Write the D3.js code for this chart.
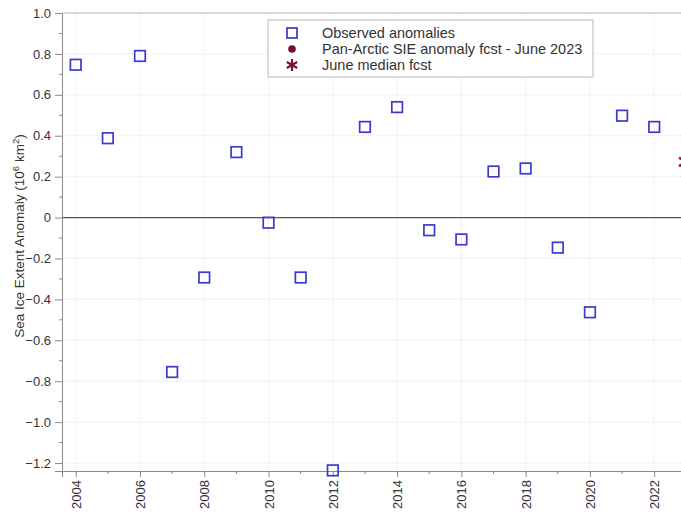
<!DOCTYPE html>
<html>
<head>
<meta charset="utf-8">
<script src="https://cdn.jsdelivr.net/npm/d3@7"></script>
<style>
  html, body { margin: 0; padding: 0; background: #fff; }
  svg { display: block; font-family: "Liberation Sans", Arial, sans-serif; }
</style>
</head>
<body>
<svg id="chart" width="681" height="514"></svg>
<script>
// Observed pan-Arctic sea ice extent anomalies (10^6 km^2)
const years = [2004, 2005, 2006, 2007, 2008, 2009, 2010, 2011, 2012, 2013,
               2014, 2015, 2016, 2017, 2018, 2019, 2020, 2021, 2022];
const anomalies = [0.747, 0.388, 0.790, -0.755, -0.293, 0.320, -0.025, -0.293, -1.236, 0.443,
                   0.540, -0.062, -0.107, 0.225, 0.240, -0.147, -0.463, 0.498, 0.443];
// June forecasts for 2023
const forecastYear = [2023];
const panArcticFcst = [0.272];
const medianFcst = [0.272];
const xTicks = [2004, 2006, 2008, 2010, 2012, 2014, 2016, 2018, 2020, 2022];
const yTicks = [1.0, 0.8, 0.6, 0.4, 0.2, 0, -0.2, -0.4, -0.6, -0.8, -1.0, -1.2];
const legendLabels = ["Observed anomalies", "Pan-Arctic SIE anomaly fcst - June 2023", "June median fcst"];

const svg = d3.select("#chart");
const margin = { left: 62, top: 13, bottom: 471 };
const plotRight = 700;

const x = d3.scaleLinear().domain([2003.574, 2023.5]).range([margin.left, margin.left + (2023.5 - 2003.574) * 32.14]);
const y = d3.scaleLinear().domain([-1.239, 1.0]).range([margin.bottom, margin.top]);

const blue = "#3a3acf";
const maroon = "#7a1030";
const axisCol = "#8a8a8a";
const textCol = "#333";

// light dotted grid
const grid = svg.append("g");
grid.selectAll("line.h").data(yTicks).enter().append("line")
  .attr("x1", margin.left).attr("x2", plotRight)
  .attr("y1", d => y(d)).attr("y2", d => y(d))
  .attr("stroke", "#e4e4e4").attr("stroke-dasharray", "1,1");
grid.selectAll("line.v").data(xTicks).enter().append("line")
  .attr("x1", d => x(d)).attr("x2", d => x(d))
  .attr("y1", margin.top).attr("y2", margin.bottom)
  .attr("stroke", "#e4e4e4").attr("stroke-dasharray", "1,1");

// frame top line
svg.append("line").attr("x1", margin.left).attr("x2", plotRight)
  .attr("y1", margin.top).attr("y2", margin.top).attr("stroke", "#bbb");

// zero reference line
svg.append("line").attr("x1", margin.left).attr("x2", plotRight)
  .attr("y1", y(0)).attr("y2", y(0)).attr("stroke", "#555").attr("stroke-width", 1.3);

// y axis with minor ticks
const yAxis = d3.axisLeft(y).tickValues(yTicks).tickSize(7).tickPadding(4)
  .tickFormat(d => d === 0 ? "0" : d3.format(".1f")(d).replace("-", "\u2212"));
const gy = svg.append("g").attr("transform", `translate(${margin.left},0)`).call(yAxis);
gy.select(".domain").attr("stroke", axisCol);
gy.selectAll(".tick line").attr("stroke", axisCol);
gy.selectAll(".tick text").attr("fill", textCol).style("font-size", "13px")
  .style("font-family", "'Liberation Sans', Arial, sans-serif");
const yMinor = d3.range(-11, 10, 2).map(v => v / 10);
svg.append("g").selectAll("line").data(yMinor).enter().append("line")
  .attr("x1", margin.left - 3).attr("x2", margin.left)
  .attr("y1", d => y(d)).attr("y2", d => y(d)).attr("stroke", axisCol);

// x axis with minor ticks
const xAxis = d3.axisBottom(x).tickValues(xTicks).tickSize(6).tickFormat(d3.format("d"));
const gx = svg.append("g").attr("transform", `translate(0,${margin.bottom})`).call(xAxis);
gx.select(".domain").attr("stroke", axisCol);
gx.selectAll(".tick line").attr("stroke", axisCol);
gx.selectAll(".tick text").attr("fill", textCol).style("font-size", "13px")
  .style("font-family", "'Liberation Sans', Arial, sans-serif")
  .attr("transform", "rotate(-90)")
  .attr("text-anchor", "end").attr("x", -9).attr("y", 0).attr("dy", "0.35em");
const xMinor = d3.range(2005, 2024, 2);
svg.append("g").selectAll("line").data(xMinor).enter().append("line")
  .attr("x1", d => x(d)).attr("x2", d => x(d))
  .attr("y1", margin.bottom).attr("y2", margin.bottom + 3).attr("stroke", axisCol);

// y axis title
svg.append("text")
  .attr("transform", `translate(24,${(margin.top + margin.bottom) / 2 - 6}) rotate(-90)`)
  .attr("text-anchor", "middle").attr("fill", textCol)
  .style("font-size", "13.5px")
  .call(t => {
    t.append("tspan").text("Sea Ice Extent Anomaly (10");
    t.append("tspan").text("6").attr("dy", -5).style("font-size", "9.5px");
    t.append("tspan").text(" km").attr("dy", 5);
    t.append("tspan").text("2").attr("dy", -5).style("font-size", "9.5px");
    t.append("tspan").text(")").attr("dy", 5);
  });

// star marker path (6-arm asterisk)
function starPath(r) {
  let p = "";
  for (let i = 0; i < 3; i++) {
    const a = Math.PI / 2 + i * Math.PI / 3;
    p += `M${r * Math.cos(a)},${r * Math.sin(a)}L${-r * Math.cos(a)},${-r * Math.sin(a)}`;
  }
  return p;
}

// observed anomalies
const obs = years.map((yr, i) => ({ yr, v: anomalies[i] }));
svg.append("g").selectAll("rect").data(obs).enter().append("rect")
  .attr("x", d => x(d.yr) - 5.3).attr("y", d => y(d.v) - 5.3)
  .attr("width", 10.6).attr("height", 10.6)
  .attr("fill", "none").attr("stroke", blue).attr("stroke-width", 1.7);

// forecasts
svg.append("g").selectAll("circle").data(forecastYear.map((yr, i) => ({ yr, v: panArcticFcst[i] })))
  .enter().append("circle")
  .attr("cx", d => x(d.yr)).attr("cy", d => y(d.v)).attr("r", 4).attr("fill", maroon);
svg.append("g").selectAll("path").data(forecastYear.map((yr, i) => ({ yr, v: medianFcst[i] })))
  .enter().append("path")
  .attr("transform", d => `translate(${x(d.yr)},${y(d.v)})`)
  .attr("d", starPath(8.5)).attr("stroke", "#a01838").attr("stroke-width", 2.6);

// legend
const lg = svg.append("g").attr("transform", "translate(268,20)");
lg.append("rect").attr("width", 325).attr("height", 57)
  .attr("fill", "#fff").attr("stroke", "#b8b8b8");
const rowY = [13, 29, 45];
lg.append("rect").attr("x", 24 - 5).attr("y", rowY[0] - 5).attr("width", 10).attr("height", 10)
  .attr("fill", "none").attr("stroke", blue).attr("stroke-width", 1.7);
lg.append("circle").attr("cx", 24).attr("cy", rowY[1]).attr("r", 3.8).attr("fill", maroon);
lg.append("path").attr("transform", `translate(24,${rowY[2]})`).attr("d", starPath(6))
  .attr("stroke", maroon).attr("stroke-width", 2.2);
lg.selectAll("text").data(legendLabels).enter().append("text")
  .attr("x", 54).attr("y", (d, i) => rowY[i]).attr("dy", "0.35em")
  .attr("fill", textCol).style("font-size", "14.5px").text(d => d);
</script>
</body>
</html>
